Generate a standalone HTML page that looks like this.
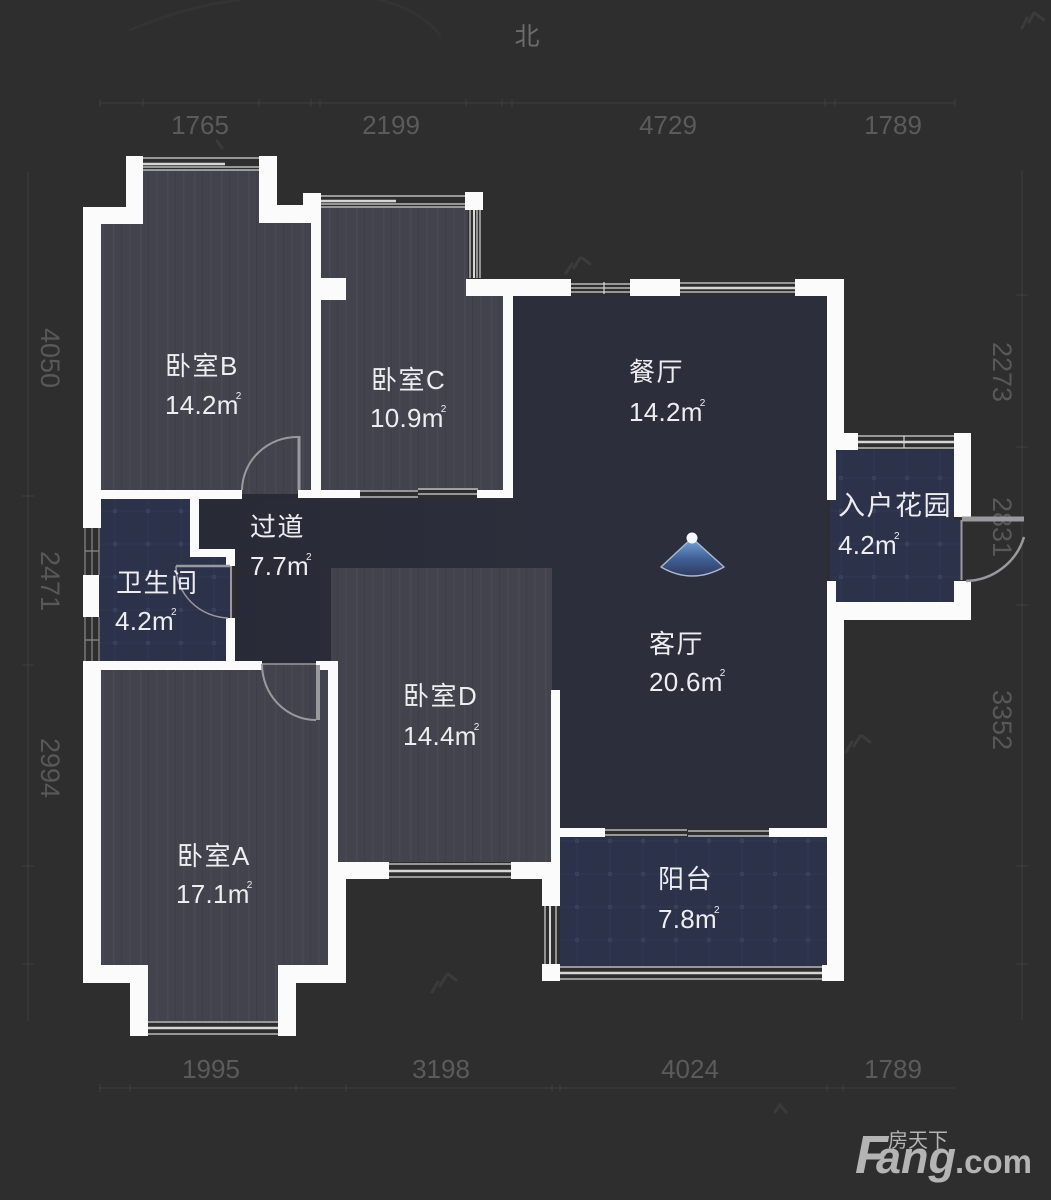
<!DOCTYPE html>
<html lang="zh">
<head>
<meta charset="utf-8">
<title>户型图</title>
<style>
html,body{margin:0;padding:0;background:#2e2e2e;width:1051px;height:1200px;overflow:hidden}
svg{display:block}
.l{font-family:"Liberation Sans","Noto Sans CJK SC",sans-serif;font-size:26px;letter-spacing:1.5px;fill:#eeeef0}
.n{font-family:"Liberation Sans",sans-serif;font-size:26px;letter-spacing:.3px;fill:#eeeef0}
.s{font-size:10px}
.d{font-family:"Liberation Sans",sans-serif;font-size:26px;fill:#5b5b5b;text-anchor:middle}
.v{font-family:"Liberation Sans",sans-serif;font-size:27px;fill:#585858;text-anchor:middle}
.w{stroke:#d6d6d6;fill:none}
.g{stroke:#9a9a9e;fill:none}
.t{stroke:#3f3f3f;fill:none;stroke-width:1}
</style>
</head>
<body>
<svg width="1051" height="1200" viewBox="0 0 1051 1200" xmlns="http://www.w3.org/2000/svg">
<defs>
<pattern id="wood" width="27" height="40" patternUnits="userSpaceOnUse">
<rect width="27" height="40" fill="#43434e"/>
<rect x="5" width="1.5" height="40" fill="#4a4a55"/>
<rect x="13" width="1" height="40" fill="#3e3e49"/>
<rect x="21" width="1.5" height="40" fill="#484853"/>
</pattern>
<pattern id="tile" width="33" height="33" patternUnits="userSpaceOnUse">
<rect width="33" height="33" fill="#2b3249"/>
<circle cx="16" cy="16" r="2" fill="#465070"/>
<path d="M0 16H33M16 0V33" stroke="#303852" stroke-width="1"/>
</pattern>
<linearGradient id="cam" x1="0" y1="0" x2="0" y2="1">
<stop offset="0" stop-color="#7aa8dc"/>
<stop offset=".55" stop-color="#3f5f96"/>
<stop offset="1" stop-color="#2f3a5f"/>
</linearGradient>
<linearGradient id="hall" gradientUnits="userSpaceOnUse" x1="199" y1="0" x2="551" y2="0">
<stop offset="0" stop-color="#282a36"/>
<stop offset="1" stop-color="#2c2f3b"/>
</linearGradient>
</defs>

<rect width="1051" height="1200" fill="#2e2e2e"/>

<!-- faint watermarks -->
<g stroke="#3b3b3b" stroke-width="3" fill="none" stroke-linecap="round">
<path d="M566 273l6-9M574 268l6-10M582 258l8 6"/>
<path d="M1022 28l5-10M1029 22l5-9M1036 14l8 6"/>
<path d="M432 992l6-10M440 986l6-10M448 974l8 6"/>
<path d="M846 752l6-10M854 746l6-10M862 736l8 6"/>
<path d="M775 1112l5-7 6 7"/>
<path d="M217 141l5 7"/>
<path d="M130 30Q190 5 240 0M380 0Q420 10 440 35" stroke="#333333"/>
</g>

<!-- dimension lines -->
<path class="t" d="M100 103H955M100 99v8M143 99v8M259 99v8M311 99v8M320 99v8M466 99v8M502 99v8M512 99v8M825 99v8M835 99v8M955 99v8"/>
<path class="t" d="M100 1088H955M100 1084v8M130 1084v8M296 1084v8M346 1084v8M552 1084v8M560 1084v8M827 1084v8M843 1084v8"/>
<path class="t" d="M28 172V1021M22 496h12M22 665h12M22 866h12M22 964h12"/>
<path class="t" d="M1022 170V1020M1016 295h12M1016 447h12M1016 605h12M1016 866h12M1016 964h12"/>

<text x="527" y="45" font-family="'Liberation Sans','Noto Sans CJK SC',sans-serif" font-size="25" fill="#6c6c6c" text-anchor="middle">北</text>
<text class="d" x="200" y="134">1765</text>
<text class="d" x="391" y="134">2199</text>
<text class="d" x="668" y="134">4729</text>
<text class="d" x="893" y="134">1789</text>
<text class="d" x="211" y="1078">1995</text>
<text class="d" x="441" y="1078">3198</text>
<text class="d" x="690" y="1078">4024</text>
<text class="d" x="893" y="1078">1789</text>
<text class="v" transform="translate(41 358) rotate(90)">4050</text>
<text class="v" transform="translate(41 581) rotate(90)">2471</text>
<text class="v" transform="translate(41 768) rotate(90)">2994</text>
<text class="v" transform="translate(993 372) rotate(90)">2273</text>
<text class="v" transform="translate(993 527) rotate(90)">2831</text>
<text class="v" transform="translate(993 720) rotate(90)">3352</text>

<!-- floors -->
<polygon fill="#2c2f3b" points="513,296 827,296 827,829 551,829 551,661 235,661 235,557 199,557 199,498 513,498"/>
<rect x="199" y="498" width="353" height="70" fill="url(#hall)"/>
<rect x="235" y="557" width="96" height="104" fill="url(#hall)"/>
<rect x="242" y="490" width="56" height="8" fill="#282a36"/>
<rect x="262" y="661" width="54" height="3" fill="#282a36"/>
<polygon fill="url(#wood)" points="101,223 143,223 143,170 259,170 259,223 311,223 311,490 298,490 298,494 242,494 242,490 101,490"/>
<polygon fill="url(#wood)" points="321,208 468,208 468,296 503,296 503,490 321,490"/>
<polygon fill="url(#wood)" points="101,670 262,670 262,664 316,664 316,670 328,670 328,965 279,965 279,1021 148,1021 148,965 101,965"/>
<polygon fill="url(#wood)" points="331,568 552,568 552,862 338,862 338,661 331,661"/>
<polygon fill="url(#tile)" points="99,499 190,499 190,557 226,557 226,566 232,566 232,618 226,618 226,661 99,661"/>
<polygon fill="url(#tile)" points="560,837 827,837 827,966 560,966"/>
<polygon fill="url(#tile)" points="836,450 954,450 954,520 962,520 962,580 954,580 954,602 836,602 836,580 830,580 830,500 836,500"/>

<!-- windows -->
<g class="w" stroke-width="1.2">
<path d="M143 158H259M143 170H259M143 167H259"/>
<path d="M143 164H225" stroke-width="2.5"/>
<path d="M321 196H465M321 207H465M321 204H465"/>
<path d="M321 201H396" stroke-width="2.5"/>
<path d="M470 210V278M480 210V278M477 210V278"/>
<path d="M474 210V278" stroke-width="2"/>
<path d="M571 284H630M571 292H630M571 288H630M604 282V294"/>
<path d="M680 283H795M680 292H795"/>
<path d="M680 288H795" stroke-width="2.5"/>
<path d="M858 436H954M858 448H954M904 436V448"/>
<path d="M858 442H954" stroke-width="2.5"/>
<path d="M85 528V575M92 528V575M99 528V575M85 551H99" stroke="#8a8a8a"/>
<path d="M85 617V663M92 617V663M99 617V663M85 640H99" stroke="#8a8a8a"/>
<path d="M360 491H418M360 497H418M418 489H478M418 494H478"/>
<path d="M605 830H687M605 835H687M688 831H770M688 836H770"/>
<path d="M389 864H511M389 877H511"/>
<path d="M389 871H511" stroke-width="2.5"/>
<path d="M545 906V965M556 906V965"/>
<path d="M550 906V965" stroke-width="2"/>
<path d="M560 967H822M560 979H822"/>
<path d="M560 973H822" stroke-width="2.5"/>
<path d="M148 1022H279M148 1034H279"/>
<path d="M148 1028H279" stroke-width="2.5"/>
</g>

<!-- walls -->
<g fill="#fbfbfb">
<rect x="83" y="207" width="18" height="321"/>
<rect x="83" y="207" width="60" height="17"/>
<rect x="126" y="156" width="17" height="68"/>
<rect x="259" y="156" width="18" height="67"/>
<rect x="259" y="205" width="62" height="18"/>
<rect x="303" y="193" width="18" height="30"/>
<rect x="311" y="193" width="10" height="305"/>
<rect x="321" y="278" width="25" height="22"/>
<rect x="465" y="192" width="18" height="18"/>
<rect x="466" y="279" width="105" height="17"/>
<rect x="503" y="279" width="10" height="219"/>
<rect x="630" y="279" width="50" height="17"/>
<rect x="795" y="279" width="49" height="17"/>
<rect x="827" y="279" width="17" height="154"/>
<rect x="827" y="433" width="31" height="17"/>
<rect x="827" y="433" width="9" height="67"/>
<rect x="954" y="433" width="17" height="84"/>
<rect x="954" y="581" width="17" height="39"/>
<rect x="827" y="581" width="9" height="39"/>
<rect x="827" y="602" width="144" height="18"/>
<rect x="827" y="602" width="17" height="379"/>
<rect x="822" y="965" width="22" height="16"/>
<rect x="83" y="490" width="159" height="9"/>
<rect x="298" y="490" width="62" height="8"/>
<rect x="477" y="490" width="36" height="8"/>
<rect x="190" y="499" width="9" height="58"/>
<rect x="190" y="549" width="45" height="8"/>
<rect x="226" y="549" width="9" height="17"/>
<rect x="226" y="618" width="9" height="43"/>
<rect x="83" y="575" width="16" height="42"/>
<rect x="83" y="663" width="18" height="320"/>
<rect x="83" y="661" width="179" height="9"/>
<rect x="316" y="661" width="22" height="9"/>
<rect x="328" y="661" width="10" height="218"/>
<rect x="328" y="862" width="61" height="17"/>
<rect x="328" y="862" width="18" height="121"/>
<rect x="83" y="965" width="65" height="18"/>
<rect x="130" y="965" width="18" height="71"/>
<rect x="278" y="965" width="18" height="71"/>
<rect x="278" y="965" width="68" height="18"/>
<rect x="511" y="862" width="49" height="17"/>
<rect x="551" y="690" width="9" height="187"/>
<rect x="542" y="877" width="18" height="29"/>
<rect x="542" y="964" width="18" height="17"/>
<rect x="551" y="828" width="54" height="9"/>
<rect x="769" y="828" width="58" height="9"/>
</g>

<!-- doors -->
<g class="g">
<path d="M299 436V490" stroke-width="3"/>
<path d="M298 437A55 54 0 0 0 242 490" stroke-width="2"/>
<path d="M176 566H230" stroke-width="2.5"/>
<path d="M231 566V618" stroke-width="2"/>
<path d="M176 566A54 52 0 0 0 228 618" stroke-width="1.5"/>
<path d="M262 664H316" stroke-width="1.5"/>
<path d="M318 665V720" stroke-width="4"/>
<path d="M262 664A54 56 0 0 0 316 720" stroke-width="2"/>
<path d="M962 519H1024" stroke-width="5"/>
<path d="M961.5 520V580" stroke-width="2"/>
<path d="M1024 537A62 62 0 0 1 966 581" stroke-width="2.5"/>
</g>

<!-- camera -->
<path d="M692 538L661 567Q692 585 724 567Z" fill="url(#cam)" stroke="#a9b8cf" stroke-width="1.5" stroke-linejoin="round"/>
<circle cx="692" cy="538" r="5.5" fill="#f4f7fb"/>

<!-- room labels -->
<text class="l" x="165" y="375">卧室B</text>
<text class="n" x="165" y="414">14.2m<tspan class="s" dx="-3" dy="-15">2</tspan></text>
<text class="l" x="371" y="389">卧室C</text>
<text class="n" x="370" y="427">10.9m<tspan class="s" dx="-3" dy="-15">2</tspan></text>
<text class="l" x="250" y="536">过道</text>
<text class="n" x="250" y="575">7.7m<tspan class="s" dx="-3" dy="-15">2</tspan></text>
<text class="l" x="116" y="592">卫生间</text>
<text class="n" x="115" y="630">4.2m<tspan class="s" dx="-3" dy="-15">2</tspan></text>
<text class="l" x="403" y="705">卧室D</text>
<text class="n" x="403" y="745">14.4m<tspan class="s" dx="-3" dy="-15">2</tspan></text>
<text class="l" x="177" y="865">卧室A</text>
<text class="n" x="176" y="903">17.1m<tspan class="s" dx="-3" dy="-15">2</tspan></text>
<text class="l" x="629" y="381">餐厅</text>
<text class="n" x="629" y="421">14.2m<tspan class="s" dx="-3" dy="-15">2</tspan></text>
<text class="l" x="649" y="653">客厅</text>
<text class="n" x="649" y="691">20.6m<tspan class="s" dx="-3" dy="-15">2</tspan></text>
<text class="l" x="838" y="515" style="font-size:27px">入户花园</text>
<text class="n" x="838" y="554">4.2m<tspan class="s" dx="-3" dy="-15">2</tspan></text>
<text class="l" x="658" y="888">阳台</text>
<text class="n" x="658" y="928">7.8m<tspan class="s" dx="-3" dy="-15">2</tspan></text>

<!-- logo -->
<g fill="#b4b4b4" font-family="'Liberation Sans',sans-serif" font-weight="700">
<text x="855" y="1173" font-size="54" font-style="italic">F</text>
<text x="876" y="1173" font-size="45" font-style="italic">ang</text>
<text x="955" y="1173" font-size="33">.com</text>
<text x="888" y="1147" font-size="20" font-weight="400" font-family="'Liberation Sans','Noto Sans CJK SC',sans-serif">房天下</text>
</g>
</svg>
</body>
</html>
